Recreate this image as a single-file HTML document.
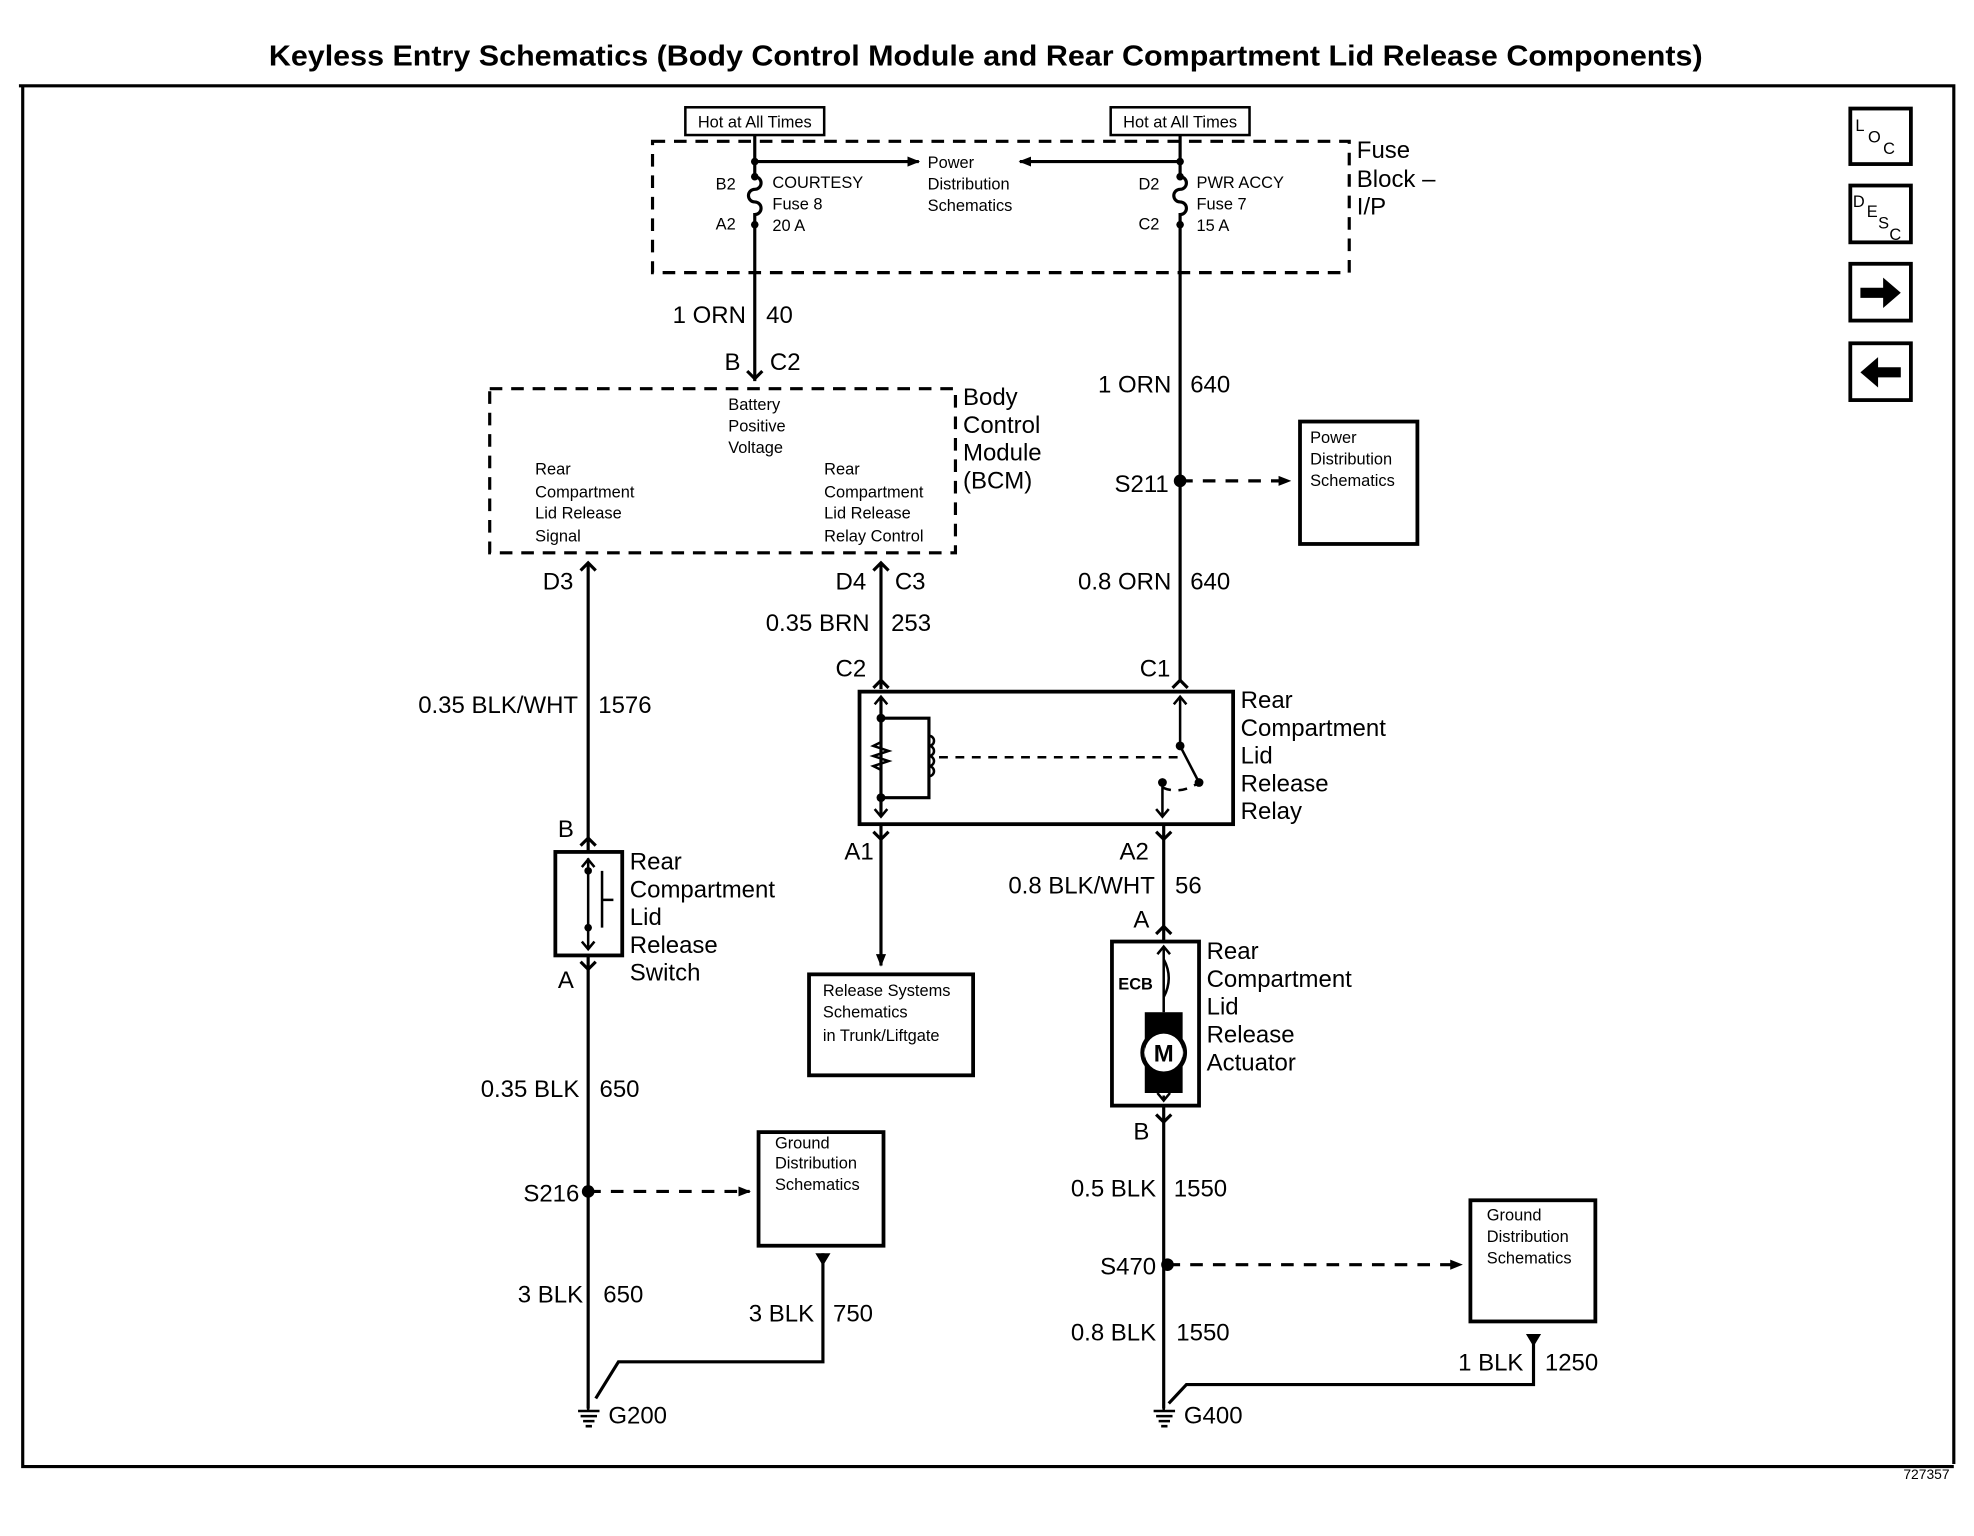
<!DOCTYPE html>
<html><head><meta charset="utf-8"><style>
html,body{margin:0;padding:0;background:#fff;}
svg{display:block;}
text{font-family:"Liberation Sans",sans-serif;fill:#000;}
.b{font-weight:bold;}
</style></head><body>
<svg width="1974" height="1536" viewBox="0 0 1564 1217" preserveAspectRatio="none" xmlns="http://www.w3.org/2000/svg">
<defs>
<marker id="ar" markerWidth="10" markerHeight="10" refX="9" refY="5" orient="auto" markerUnits="userSpaceOnUse"><path d="M0,1 L10,5 L0,9 z" fill="#000"/></marker>
</defs>
<text x="213" y="52" font-size="23" class="b" textLength="1136" lengthAdjust="spacingAndGlyphs">Keyless Entry Schematics (Body Control Module and Rear Compartment Lid Release Components)</text>
<g fill="none" stroke="#000" stroke-width="2.5">
<path d="M15,68 H1548 V1160 M18,68 V1162 H1548"/>
</g>
<g fill="none" stroke="#000" stroke-width="3">
<rect x="1466" y="86" width="48" height="44"/><rect x="1466" y="147" width="48" height="45"/>
<rect x="1466" y="209" width="48" height="45"/><rect x="1466" y="272" width="48" height="45"/>
</g>
<text x="1470" y="104" font-size="13">L</text><text x="1480" y="113" font-size="13">O</text><text x="1492" y="122" font-size="13">C</text>
<text x="1468" y="164" font-size="13">D</text><text x="1479" y="172" font-size="13">E</text><text x="1488" y="181" font-size="13">S</text><text x="1497" y="190" font-size="13">C</text>
<path d="M1474,228 H1492 V220 L1506,232 L1492,244 V236 H1474 z" fill="#000"/>
<path d="M1506,291 H1488 V283 L1474,295 L1488,307 V299 H1506 z" fill="#000"/>
<g fill="none" stroke="#000" stroke-width="2.5" stroke-dasharray="10,7">
<rect x="517" y="112" width="552" height="104"/>
<rect x="388" y="308" width="369" height="130"/>
</g>
<g fill="none" stroke="#000" stroke-width="2">
<rect x="543" y="85" width="110" height="22"/><rect x="880" y="85" width="110" height="22"/>
</g>
<text x="598" y="101" font-size="13" text-anchor="middle">Hot at All Times</text>
<text x="935" y="101" font-size="13" text-anchor="middle">Hot at All Times</text>
<g fill="none" stroke="#000" stroke-width="2.5">
<path d="M598,107 V140 M598,178 V302"/>
<path d="M598,140 a5,5 0 0 1 0,10 a5,5 0 0 0 0,10 a5,5 0 0 1 0,10 V178"/>
<path d="M935,107 V140 M935,178 V540"/>
<path d="M935,140 a5,5 0 0 1 0,10 a5,5 0 0 0 0,10 a5,5 0 0 1 0,10 V178"/>
<path d="M598,128 H728" marker-end="url(#ar)"/>
<path d="M935,128 H808" marker-end="url(#ar)"/>
</g>
<g fill="#000"><circle cx="598" cy="128" r="3"/><circle cx="935" cy="128" r="3"/><circle cx="598" cy="140" r="3"/><circle cx="598" cy="178" r="3"/><circle cx="935" cy="140" r="3"/><circle cx="935" cy="178" r="3"/></g>
<g font-size="13">
<text x="735" y="133">Power</text><text x="735" y="150">Distribution</text><text x="735" y="167">Schematics</text>
<text x="567" y="150">B2</text><text x="567" y="182">A2</text>
<text x="612" y="149">COURTESY</text><text x="612" y="166">Fuse 8</text><text x="612" y="183">20 A</text>
<text x="902" y="150">D2</text><text x="902" y="182">C2</text>
<text x="948" y="149">PWR ACCY</text><text x="948" y="166">Fuse 7</text><text x="948" y="183">15 A</text>
</g>
<g font-size="19"><text x="1075" y="125">Fuse</text><text x="1075" y="148">Block –</text><text x="1075" y="170">I/P</text></g>
<g font-size="19">
<text x="591" y="256" text-anchor="end">1 ORN</text><text x="607" y="256">40</text>
<text x="574" y="293">B</text><text x="610" y="293">C2</text>
<text x="763" y="321">Body</text><text x="763" y="343">Control</text><text x="763" y="365">Module</text><text x="763" y="387">(BCM)</text>
<text x="928" y="311" text-anchor="end">1 ORN</text><text x="943" y="311">640</text>
<text x="926" y="390" text-anchor="end">S211</text>
<text x="928" y="467" text-anchor="end">0.8 ORN</text><text x="943" y="467">640</text>
<text x="430" y="467">D3</text><text x="662" y="467">D4</text><text x="709" y="467">C3</text>
<text x="689" y="500" text-anchor="end">0.35 BRN</text><text x="706" y="500">253</text>
<text x="662" y="536">C2</text><text x="903" y="536">C1</text>
<text x="458" y="565" text-anchor="end">0.35 BLK/WHT</text><text x="474" y="565">1576</text>
<text x="983" y="561">Rear</text><text x="983" y="583">Compartment</text><text x="983" y="605">Lid</text><text x="983" y="627">Release</text><text x="983" y="649">Relay</text>
<text x="442" y="663">B</text>
<text x="669" y="681">A1</text><text x="887" y="681">A2</text>
<text x="499" y="689">Rear</text><text x="499" y="711">Compartment</text><text x="499" y="733">Lid</text><text x="499" y="755">Release</text><text x="499" y="777">Switch</text>
<text x="915" y="708" text-anchor="end">0.8 BLK/WHT</text><text x="931" y="708">56</text>
<text x="898" y="735">A</text>
<text x="956" y="760">Rear</text><text x="956" y="782">Compartment</text><text x="956" y="804">Lid</text><text x="956" y="826">Release</text><text x="956" y="848">Actuator</text>
<text x="442" y="783">A</text>
<text x="459" y="869" text-anchor="end">0.35 BLK</text><text x="475" y="869">650</text>
<text x="898" y="903">B</text>
<text x="916" y="948" text-anchor="end">0.5 BLK</text><text x="930" y="948">1550</text>
<text x="459" y="952" text-anchor="end">S216</text>
<text x="916" y="1010" text-anchor="end">S470</text>
<text x="462" y="1032" text-anchor="end">3 BLK</text><text x="478" y="1032">650</text>
<text x="645" y="1047" text-anchor="end">3 BLK</text><text x="660" y="1047">750</text>
<text x="916" y="1062" text-anchor="end">0.8 BLK</text><text x="932" y="1062">1550</text>
<text x="1207" y="1086" text-anchor="end">1 BLK</text><text x="1224" y="1086">1250</text>
<text x="482" y="1128">G200</text><text x="938" y="1128">G400</text>
</g>
<g font-size="13">
<text x="577" y="325">Battery</text><text x="577" y="342">Positive</text><text x="577" y="359">Voltage</text>
<text x="424" y="376">Rear</text><text x="424" y="394">Compartment</text><text x="424" y="411">Lid Release</text><text x="424" y="429">Signal</text>
<text x="653" y="376">Rear</text><text x="653" y="394">Compartment</text><text x="653" y="411">Lid Release</text><text x="653" y="429">Relay Control</text>
<text x="1038" y="351">Power</text><text x="1038" y="368">Distribution</text><text x="1038" y="385">Schematics</text>
<text x="652" y="789">Release Systems</text><text x="652" y="806">Schematics</text><text x="652" y="825">in  Trunk/Liftgate</text>
<text x="614" y="910">Ground</text><text x="614" y="926">Distribution</text><text x="614" y="943">Schematics</text>
<text x="1178" y="967">Ground</text><text x="1178" y="984">Distribution</text><text x="1178" y="1001">Schematics</text>
<text x="886" y="784" class="b">ECB</text>
<text x="1508" y="1172" font-size="11">727357</text>
</g>
<g fill="none" stroke="#000" stroke-width="2.5">
<path d="M592,294 L598,300 L604,294"/>
<path d="M460,452 L466,446 L472,452 M692,452 L698,446 L704,452"/>
<path d="M466,446 V675 M698,446 V546 M922,653 V746 M922,876 V1116"/>
<path d="M692,545 L698,539 L704,545 M929,545 L935,539 L941,545"/>
<path d="M460,670 L466,664 L472,670 M692,659 L698,665 L704,659 M916,659 L922,665 L928,659 M916,740 L922,734 L928,740 M460,762 L466,768 L472,762 M916,883 L922,889 L928,883"/>
<path d="M466,757 V1116"/>
<path d="M698,653 V765" marker-end="url(#ar)"/>
<rect x="681" y="548" width="296" height="105" stroke-width="3"/>
<rect x="440" y="675" width="53" height="82" stroke-width="3"/>
<rect x="881" y="746" width="69" height="130" stroke-width="3"/>
<rect x="1030" y="334" width="93" height="97" stroke-width="3"/>
<rect x="641" y="772" width="130" height="80" stroke-width="3"/>
<rect x="601" y="897" width="99" height="90" stroke-width="3"/>
<rect x="1165" y="951" width="99" height="96" stroke-width="3"/>
<path d="M698,553 V646 M698,569 H736 V632 H698"/>
<path d="M698,588 l-6,3 l12,4 l-12,4 l12,4 l-12,4 l6,3" stroke-width="2"/>
<path d="M736,583 a4,4 0 0 1 0,8 a4,4 0 0 1 0,8 a4,4 0 0 1 0,8 a4,4 0 0 1 0,8" stroke-width="2"/>
<path d="M935,553 V591 L950,620 M921,620 V646" stroke-width="2"/>
<path d="M744,600 H936 M921,624 Q935,630 950,620" stroke-dasharray="7,6" stroke-width="2"/>
<path d="M930,558 L935,552 L940,558 M693,558 L698,552 L703,558 M693,641 L698,647 L703,641 M916,641 L921,647 L926,641" stroke-width="2"/>
<path d="M466,680 V735 M466,735 V752 M477,690 V735 M477,713 H486" stroke-width="2"/>
<path d="M461,687 L466,681 L471,687 M461,746 L466,752 L471,746" stroke-width="2"/>
<path d="M922,750 V790 Q930,775 922,760 M922,790 V802 M922,868 V872" stroke-width="2"/>
<path d="M917,756 L922,750 L927,756 M917,866 L922,872 L927,866" stroke-width="2"/>
<circle cx="922" cy="834" r="17" stroke-width="3"/>
<path d="M935,381 H1022" stroke-dasharray="10,8" marker-end="url(#ar)"/>
<path d="M466,944 H594" stroke-dasharray="10,8" marker-end="url(#ar)"/>
<path d="M925,1002 H1158" stroke-dasharray="10,8" marker-end="url(#ar)"/>
<path d="M652,993 V1079 H490 L472,1108"/>
<path d="M1215,1057 V1097 H940 L926,1112"/>
</g>
<g fill="#000">
<rect x="907" y="802" width="30" height="64"/>
<circle cx="922" cy="834" r="15" fill="#fff"/>
<circle cx="935" cy="381" r="5"/><circle cx="466" cy="944" r="5"/><circle cx="925" cy="1002" r="5"/>
<circle cx="698" cy="569" r="3.5"/><circle cx="698" cy="632" r="3.5"/><circle cx="935" cy="591" r="3.5"/><circle cx="950" cy="620" r="3.5"/><circle cx="921" cy="620" r="3.5"/>
<circle cx="466" cy="690" r="3"/><circle cx="466" cy="735" r="3"/>
<path d="M646,993 L658,993 L652,1003 z"/><path d="M1209,1057 L1221,1057 L1215,1067 z"/>
</g>
<text x="922" y="841" font-size="19" class="b" text-anchor="middle">M</text>
<g stroke="#000" stroke-width="2">
<path d="M466,1112 V1118 M458,1118 H475 M460,1122 H473 M462,1126 H471 M464,1130 H469"/>
<path d="M922,1112 V1118 M914,1118 H931 M916,1122 H929 M918,1126 H927 M920,1130 H925"/>
</g>
</svg>
</body></html>
